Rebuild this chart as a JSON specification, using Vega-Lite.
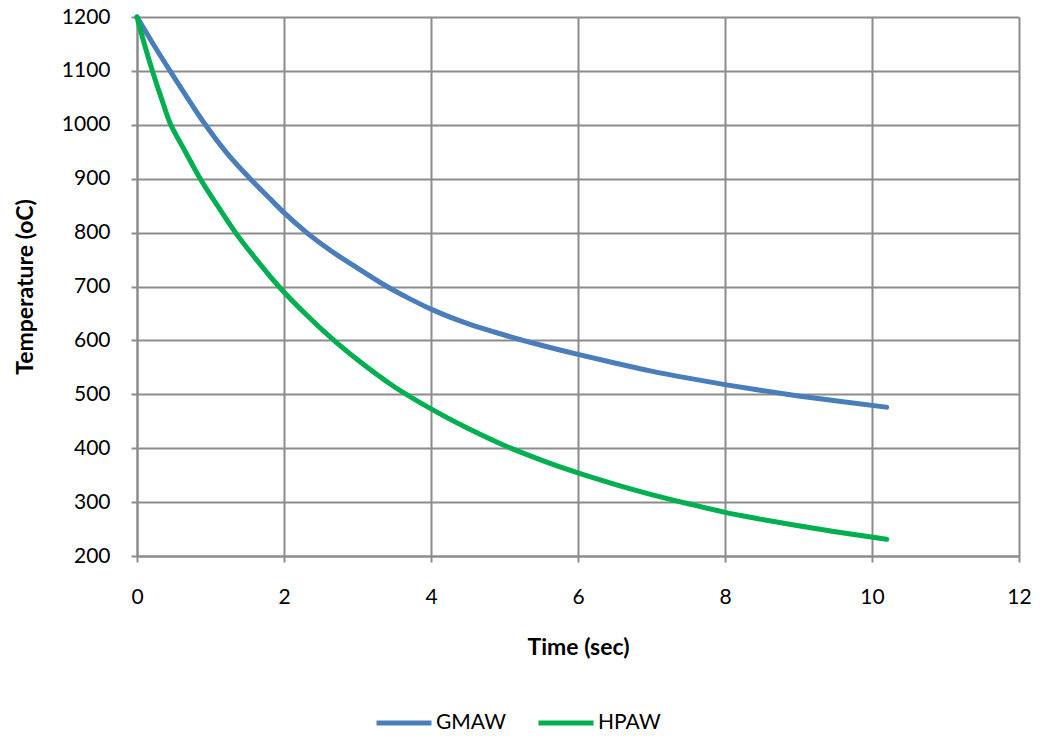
{
  "$schema": "https://vega.github.io/schema/vega-lite/v6.json",
  "width": 882,
  "height": 539,
  "autosize": {"type": "none"},
  "padding": {"left": 137, "top": 17, "right": 21, "bottom": 180},
  "background": "white",
  "config": {
    "font": "Lato",
    "view": {"stroke": null},
    "axis": {
      "gridColor": "#8c8c8c",
      "gridWidth": 2,
      "domainColor": "#8c8c8c",
      "domainWidth": 2,
      "tickColor": "#8c8c8c",
      "tickWidth": 2,
      "tickSize": 6,
      "labelFont": "Lato",
      "labelFontSize": 21,
      "labelColor": "#000000",
      "titleFont": "Lato",
      "titleFontSize": 23,
      "titleFontWeight": "bold",
      "titleColor": "#000000"
    }
  },
  "data": {
    "values": [
      {"t": 0, "series": "GMAW", "temp": 1200},
      {"t": 0.22, "series": "GMAW", "temp": 1150},
      {"t": 0.45, "series": "GMAW", "temp": 1100},
      {"t": 0.69, "series": "GMAW", "temp": 1049},
      {"t": 0.93, "series": "GMAW", "temp": 1000},
      {"t": 1.22, "series": "GMAW", "temp": 948},
      {"t": 1.54, "series": "GMAW", "temp": 900},
      {"t": 1.8, "series": "GMAW", "temp": 864},
      {"t": 2, "series": "GMAW", "temp": 837},
      {"t": 2.3, "series": "GMAW", "temp": 801},
      {"t": 2.6, "series": "GMAW", "temp": 770},
      {"t": 3, "series": "GMAW", "temp": 734},
      {"t": 3.4, "series": "GMAW", "temp": 700},
      {"t": 3.7, "series": "GMAW", "temp": 678},
      {"t": 4, "series": "GMAW", "temp": 658},
      {"t": 4.5, "series": "GMAW", "temp": 631},
      {"t": 5, "series": "GMAW", "temp": 610},
      {"t": 5.5, "series": "GMAW", "temp": 591},
      {"t": 6, "series": "GMAW", "temp": 574},
      {"t": 6.5, "series": "GMAW", "temp": 558},
      {"t": 7, "series": "GMAW", "temp": 543},
      {"t": 7.5, "series": "GMAW", "temp": 530},
      {"t": 8, "series": "GMAW", "temp": 518},
      {"t": 8.5, "series": "GMAW", "temp": 507},
      {"t": 9, "series": "GMAW", "temp": 497},
      {"t": 9.5, "series": "GMAW", "temp": 488},
      {"t": 10.2, "series": "GMAW", "temp": 476},
      {"t": 0, "series": "HPAW", "temp": 1200},
      {"t": 0.1, "series": "HPAW", "temp": 1150},
      {"t": 0.21, "series": "HPAW", "temp": 1100},
      {"t": 0.33, "series": "HPAW", "temp": 1050},
      {"t": 0.45, "series": "HPAW", "temp": 1003},
      {"t": 0.5, "series": "HPAW", "temp": 989},
      {"t": 0.65, "series": "HPAW", "temp": 952},
      {"t": 0.86, "series": "HPAW", "temp": 900},
      {"t": 1.1, "series": "HPAW", "temp": 849},
      {"t": 1.34, "series": "HPAW", "temp": 800},
      {"t": 1.63, "series": "HPAW", "temp": 749},
      {"t": 1.93, "series": "HPAW", "temp": 700},
      {"t": 2.3, "series": "HPAW", "temp": 648},
      {"t": 2.68, "series": "HPAW", "temp": 600},
      {"t": 3, "series": "HPAW", "temp": 564},
      {"t": 3.5, "series": "HPAW", "temp": 514},
      {"t": 4, "series": "HPAW", "temp": 473},
      {"t": 4.5, "series": "HPAW", "temp": 437},
      {"t": 5, "series": "HPAW", "temp": 405},
      {"t": 5.5, "series": "HPAW", "temp": 378},
      {"t": 6, "series": "HPAW", "temp": 354},
      {"t": 6.5, "series": "HPAW", "temp": 333},
      {"t": 7, "series": "HPAW", "temp": 314},
      {"t": 7.5, "series": "HPAW", "temp": 297},
      {"t": 8, "series": "HPAW", "temp": 281},
      {"t": 8.5, "series": "HPAW", "temp": 268},
      {"t": 9, "series": "HPAW", "temp": 256},
      {"t": 9.5, "series": "HPAW", "temp": 245},
      {"t": 10.2, "series": "HPAW", "temp": 231}
    ]
  },
  "mark": {"type": "line", "strokeWidth": 5, "strokeCap": "round", "strokeJoin": "round", "interpolate": "monotone"},
  "encoding": {
    "x": {
      "field": "t",
      "type": "quantitative",
      "title": "Time (sec)",
      "scale": {"domain": [0, 12], "nice": false, "zero": false},
      "axis": {"values": [0, 2, 4, 6, 8, 10, 12], "format": "d", "labelPadding": 24, "titlePadding": 29, "grid": true, "labelFlush": false}
    },
    "y": {
      "field": "temp",
      "type": "quantitative",
      "title": "Temperature (oC)",
      "scale": {"domain": [200, 1200], "nice": false, "zero": false},
      "axis": {"values": [200, 300, 400, 500, 600, 700, 800, 900, 1000, 1100, 1200], "format": "d", "labelPadding": 21, "titlePadding": 24, "grid": true, "labelFlush": false}
    },
    "color": {
      "field": "series",
      "type": "nominal",
      "scale": {"domain": ["GMAW", "HPAW"], "range": ["#4a7ebb", "#00b050"]},
      "legend": {
        "title": null,
        "orient": "none",
        "direction": "horizontal",
        "legendX": 237,
        "legendY": 676,
        "symbolType": "stroke",
        "symbolSize": 3025,
        "symbolStrokeWidth": 5,
        "labelFontSize": 21,
        "labelFont": "Lato",
        "labelColor": "#000000",
        "labelOffset": 2,
        "columnPadding": 22
      }
    }
  }
}
